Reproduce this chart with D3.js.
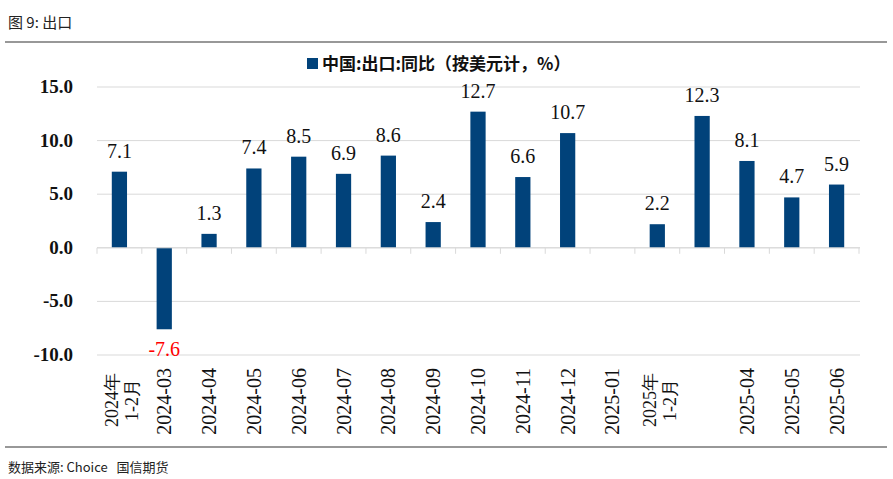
<!DOCTYPE html>
<html>
<head>
<meta charset="utf-8">
<script src="https://cdn.jsdelivr.net/npm/d3@7"></script>
<style>
  body { margin: 0; background: #fff; }
  .serif { font-family: "Liberation Serif", "DejaVu Serif", serif; }
</style>
</head>
<body>
<div id="chart-area"></div>
<script>
// data
var months = ["2024-01/02", "2024-03", "2024-04", "2024-05", "2024-06", "2024-07", "2024-08",
    "2024-09", "2024-10", "2024-11", "2024-12", "2025-01", "2025-02", "2025-03",
    "2025-04", "2025-05", "2025-06"];
var tickLabels = [["2024年", "1-2月"], ["2024-03"], ["2024-04"], ["2024-05"], ["2024-06"], ["2024-07"],
    ["2024-08"], ["2024-09"], ["2024-10"], ["2024-11"], ["2024-12"], ["2025-01"],
    ["2025年", "1-2月"], [], ["2025-04"], ["2025-05"], ["2025-06"]];
var exportsYoY = [7.1, -7.6, 1.3, 7.4, 8.5, 6.9, 8.6, 2.4, 12.7, 6.6, 10.7, null, 2.2, 12.3, 8.1, 4.7, 5.9];
var yTicks = [-10, -5, 0, 5, 10, 15];

var W = 893, H = 479;
var cjk = "Noto Sans CJK SC, sans-serif";
var fmt = (v) => { return v.toFixed(1); };

var svg = d3.select("#chart-area")
    .append("svg")
    .attr("width", W)
    .attr("height", H);

// title + rules
svg.append("text")
    .attr("x", 8).attr("y", 28)
    .attr("font-family", cjk).attr("font-size", "15px")
    .attr("fill", "#222")
    .text("图 9: 出口");
svg.append("line")
    .attr("x1", 5).attr("x2", 887).attr("y1", 42).attr("y2", 42)
    .attr("stroke", "#333").attr("stroke-width", 1.2);
svg.append("line")
    .attr("x1", 5).attr("x2", 887).attr("y1", 447).attr("y2", 447)
    .attr("stroke", "#333").attr("stroke-width", 1.2);
svg.append("text")
    .attr("x", 8).attr("y", 472)
    .attr("font-family", cjk).attr("font-size", "13px")
    .attr("fill", "#222")
    .attr("xml:space", "preserve")
    .text("数据来源: Choice   国信期货");

var x = d3.scaleBand().domain(months).range([97, 859]).paddingInner(0.66).paddingOuter(0.33);
var y = d3.scaleLinear().domain([-10, 15]).range([355, 87]);

// gridlines
svg.append("g").selectAll("line").data(yTicks).enter().append("line")
    .attr("x1", 97).attr("x2", 860)
    .attr("y1", (d) => { return y(d); })
    .attr("y2", (d) => { return y(d); })
    .attr("stroke", "#d9d9d9").attr("stroke-width", 1);

// y labels
svg.append("g").selectAll("text").data(yTicks).enter().append("text")
    .attr("class", "serif")
    .attr("x", 73)
    .attr("y", (d) => { return y(d) + 6; })
    .attr("text-anchor", "end")
    .attr("font-size", "19px").attr("font-weight", "bold")
    .attr("fill", "#111")
    .text(fmt);

// bars
var bars = months.map((m, i) => { return {m: m, v: exportsYoY[i]}; })
    .filter((d) => { return d.v !== null; });
svg.append("g").selectAll("rect").data(bars).enter().append("rect")
    .attr("x", (d) => { return x(d.m); })
    .attr("width", x.bandwidth())
    .attr("y", (d) => { return y(Math.max(0, d.v)); })
    .attr("height", (d) => { return Math.abs(y(d.v) - y(0)); })
    .attr("fill", "#01427a");

// zero axis with ticks at slot edges
svg.append("line")
    .attr("x1", 97).attr("x2", 860).attr("y1", y(0)).attr("y2", y(0))
    .attr("stroke", "#d9d9d9");
var step = x.step();
svg.append("g").selectAll("line").data(d3.range(months.length + 1)).enter().append("line")
    .attr("x1", (d) => { return 97 + d * step; })
    .attr("x2", (d) => { return 97 + d * step; })
    .attr("y1", y(0)).attr("y2", y(0) + 6)
    .attr("stroke", "#d9d9d9");

// value labels
svg.append("g").selectAll("text").data(bars).enter().append("text")
    .attr("class", "serif")
    .attr("x", (d) => { return x(d.m) + x.bandwidth() / 2; })
    .attr("y", (d) => { return d.v >= 0 ? y(d.v) - 14 : y(d.v) + 27; })
    .attr("text-anchor", "middle")
    .attr("font-size", "20px")
    .attr("fill", (d) => { return d.v >= 0 ? "#111" : "#ff0000"; })
    .text((d) => { return fmt(d.v); });

// x tick labels, rotated; two-line labels are centred vertically
months.forEach((m, i) => {
    var lines = tickLabels[i];
    var cx = x(m) + x.bandwidth() / 2;
    lines.forEach((t, j) => {
        var two = lines.length > 1;
        var off = two ? (j - 0.5) * 20 + 2 : 0;
        svg.append("text")
            .attr("class", "serif")
            .attr("transform", "translate(" + (cx + off + 7) + "," + (two ? 400 : 368) + ") rotate(-90)")
            .attr("text-anchor", two ? "middle" : "end")
            .attr("font-size", two ? "18px" : "20px")
            .attr("fill", "#111")
            .text(t);
    });
});

// legend
svg.append("rect")
    .attr("x", 307).attr("y", 58).attr("width", 11).attr("height", 11)
    .attr("fill", "#01427a");
svg.append("text")
    .attr("x", 322).attr("y", 70)
    .attr("font-family", cjk).attr("font-size", "17px").attr("font-weight", "bold")
    .attr("fill", "#111")
    .text("中国:出口:同比（按美元计，%）");
</script>
</body>
</html>
